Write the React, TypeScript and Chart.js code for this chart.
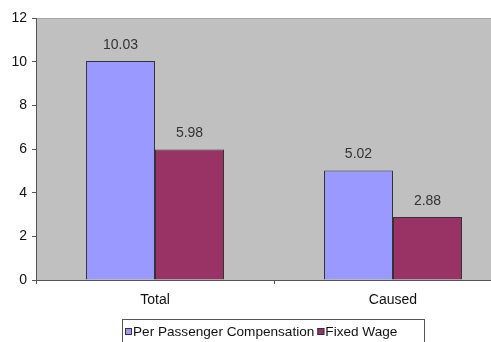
import React, { useEffect, useRef } from "react";
import { Chart, registerables } from "chart.js";

Chart.register(...registerables);

const categories = ["Total", "Caused"];
const perPassenger = [10.03, 5.02];
const fixedWage = [5.98, 2.88];
const seriesNames = ["Per Passenger Compensation", "Fixed Wage"];
const seriesColors = ["#9999ff", "#993366"];

const FONT = "'Liberation Sans', Arial, sans-serif";

export default function App() {
  const ref = useRef<HTMLCanvasElement | null>(null);
  useEffect(() => {
    document.body.style.margin = "0";
    document.body.style.overflow = "hidden";
    const bgPlugin = {
      id: "bg",
      beforeDraw(chart: any) {
        const { ctx, chartArea: a } = chart;
        ctx.save();
        ctx.fillStyle = "#c0c0c0";
        ctx.fillRect(a.left, a.top, a.right - a.left, a.bottom - a.top);
        ctx.strokeStyle = "#a8a8a8";
        ctx.lineWidth = 1;
        ctx.beginPath();
        ctx.moveTo(a.left, a.top + 0.5);
        ctx.lineTo(a.right, a.top + 0.5);
        ctx.stroke();
        ctx.restore();
      },
      afterDatasetsDraw(chart: any) {
        const { ctx } = chart;
        ctx.save();
        ctx.font = `14px ${FONT}`;
        ctx.fillStyle = "#333";
        ctx.textAlign = "center";
        ctx.textBaseline = "middle";
        chart.data.datasets.forEach((ds: any, i: number) => {
          const meta = chart.getDatasetMeta(i);
          meta.data.forEach((bar: any, j: number) => {
            ctx.fillText(ds.data[j].toFixed(2), bar.x, bar.y - 16);
          });
        });
        // legend
        const boxL = 122, boxT = 319, boxR = 424, boxB = 352;
        ctx.fillStyle = "#ffffff";
        ctx.fillRect(boxL, boxT, boxR - boxL, boxB - boxT);
        ctx.strokeStyle = "#555";
        ctx.lineWidth = 1;
        ctx.strokeRect(boxL + 0.5, boxT + 0.5, boxR - boxL, boxB - boxT);
        ctx.textAlign = "left";
        ctx.font = `13.6px ${FONT}`;
        let x = 125;
        const ty = 332;
        seriesNames.forEach((name, i) => {
          ctx.fillStyle = seriesColors[i];
          ctx.fillRect(x, ty - 4, 7, 7);
          ctx.strokeStyle = "#333";
          ctx.strokeRect(x + 0.5, ty - 3.5, 6, 6);
          ctx.fillStyle = "#111";
          ctx.fillText(name, x + 8, ty);
          x += 8 + ctx.measureText(name).width + 3;
        });
        ctx.restore();
      },
    };
    const chart = new Chart(ref.current!, {
      type: "bar",
      data: {
        labels: categories,
        datasets: [
          {
            label: seriesNames[0],
            data: perPassenger,
            backgroundColor: seriesColors[0],
            borderColor: "#333",
            borderWidth: 1,
          },
          {
            label: seriesNames[1],
            data: fixedWage,
            backgroundColor: seriesColors[1],
            borderColor: "#333",
            borderWidth: 1,
          },
        ],
      },
      options: {
        responsive: false,
        animation: false,
        layout: { padding: { top: 18, left: 0, right: 0, bottom: 0 } },
        datasets: { bar: { categoryPercentage: 0.58, barPercentage: 1 } },
        plugins: { legend: { display: false }, tooltip: { enabled: false } },
        scales: {
          x: {
            grid: { drawOnChartArea: false, drawTicks: true, tickLength: 4, offset: true, color: "#555" },
            border: { color: "#555" },
            ticks: { color: "#111", font: { family: FONT, size: 14 }, padding: 8 },
            afterFit(s: any) { s.height = 62; },
          },
          y: {
            min: 0,
            max: 12,
            ticks: { stepSize: 2, color: "#111", font: { family: FONT, size: 14 }, padding: 5 },
            grid: { drawOnChartArea: false, drawTicks: true, tickLength: 4, color: "#555" },
            border: { color: "#555" },
            afterFit(s: any) { s.width = 36; },
          },
        },
      },
      plugins: [bgPlugin],
    });
    return () => chart.destroy();
  }, []);
  return (
    <div style={{ position: "fixed", left: 0, top: 0, width: 491, height: 342, overflow: "hidden", background: "#fff" }}>
      <canvas ref={ref} width={512} height={342} style={{ display: "block" }} />
    </div>
  );
}
